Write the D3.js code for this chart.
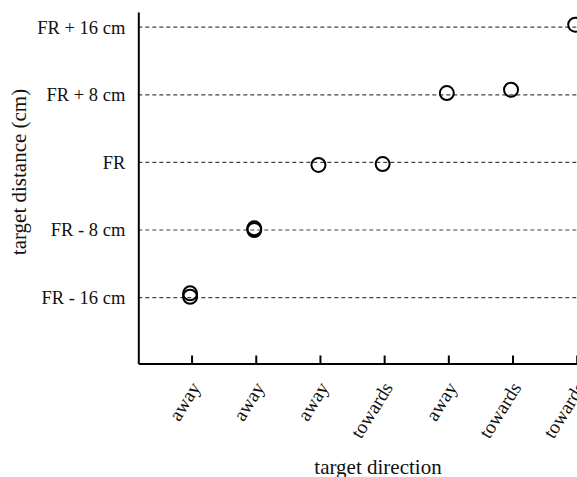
<!DOCTYPE html>
<html>
<head>
<meta charset="utf-8">
<script src="https://cdn.jsdelivr.net/npm/d3@7"></script>
<style>
  body { margin: 0; background: #fff; }
  svg text { font-family: "Liberation Serif", "Times New Roman", serif; fill: #111; }
</style>
</head>
<body>
<div id="chart"></div>
<script>
// categories on the x axis (one per condition)
const directions = ['away', 'away', 'away', 'towards', 'away', 'towards', 'towards']
// y tick values (cm relative to FR) and their labels
const distanceTicks = [-16, -8, 0, 8, 16]
const distanceLabels = ['FR - 16 cm', 'FR - 8 cm', 'FR', 'FR + 8 cm', 'FR + 16 cm']
// observed points: condition index and measured distance (cm)
const pointIndex = [0, 0, 1, 1, 2, 3, 4, 5, 6]
const pointDistance = [-15.5, -15.9, -7.8, -8.0, -0.3, -0.2, 8.2, 8.6, 16.3]

const width = 577
const height = 477

const svg = d3.select('#chart').append('svg')
    .attr('width', width)
    .attr('height', height)

// scales
const xScale = d3.scaleLinear().domain([-0.83, 6]).range([138.3, 576.7])
const yScale = d3.scaleLinear().domain([-23.8, 17.8]).range([363.5, 12])

// dashed reference lines at each distance
svg.selectAll('.refLine')
    .data(distanceTicks)
    .enter().append('line')
    .attr('class', 'refLine')
    .attr('x1', xScale(-0.83))
    .attr('x2', width)
    .attr('y1', d => yScale(d))
    .attr('y2', d => yScale(d))
    .attr('stroke', '#444')
    .attr('stroke-width', 1.2)
    .attr('stroke-dasharray', '4,3')

// y axis: line only, labels on the left
const yAxis = d3.axisLeft(yScale)
    .tickValues(distanceTicks)
    .tickFormat((d, i) => distanceLabels[i])
    .tickSize(0)
    .tickPadding(13)
const gy = svg.append('g')
    .attr('transform', `translate(${xScale(-0.83)},0)`)
    .call(yAxis)
gy.select('.domain').attr('stroke', '#000').attr('stroke-width', 2)
gy.selectAll('text').style('font-size', '18.5px').attr('fill', '#111')

// x axis: ticks pointing up into the plot
const xAxis = d3.axisBottom(xScale)
    .tickValues(d3.range(directions.length))
    .tickFormat(i => directions[i])
    .tickSizeInner(-8)
    .tickSizeOuter(0)
const gx = svg.append('g')
    .attr('transform', `translate(0,${yScale(-23.8)})`)
    .call(xAxis)
gx.select('.domain').attr('stroke', '#000').attr('stroke-width', 2)
gx.selectAll('.tick line').attr('stroke', '#000').attr('stroke-width', 2)
gx.selectAll('text')
    .style('font-size', '19.5px')
    .attr('fill', '#111')
    .attr('text-anchor', 'end')
    .attr('dy', null)
    .attr('y', 0)
    .attr('transform', 'translate(9,24) rotate(-58)')

// points
svg.selectAll('.pt')
    .data(pointIndex)
    .enter().append('circle')
    .attr('class', 'pt')
    .attr('cx', (d) => xScale(d) - 1.5)
    .attr('cy', (d, i) => yScale(pointDistance[i]))
    .attr('r', 7)
    .attr('fill', 'none')
    .attr('stroke', '#000')
    .attr('stroke-width', 2)

// axis titles
svg.append('text')
    .attr('x', 378)
    .attr('y', 474)
    .attr('text-anchor', 'middle')
    .style('font-size', '21px')
    .text('target direction')

svg.append('text')
    .attr('transform', 'translate(26,172) rotate(-90)')
    .attr('text-anchor', 'middle')
    .style('font-size', '21px')
    .text('target distance (cm)')
</script>
</body>
</html>
